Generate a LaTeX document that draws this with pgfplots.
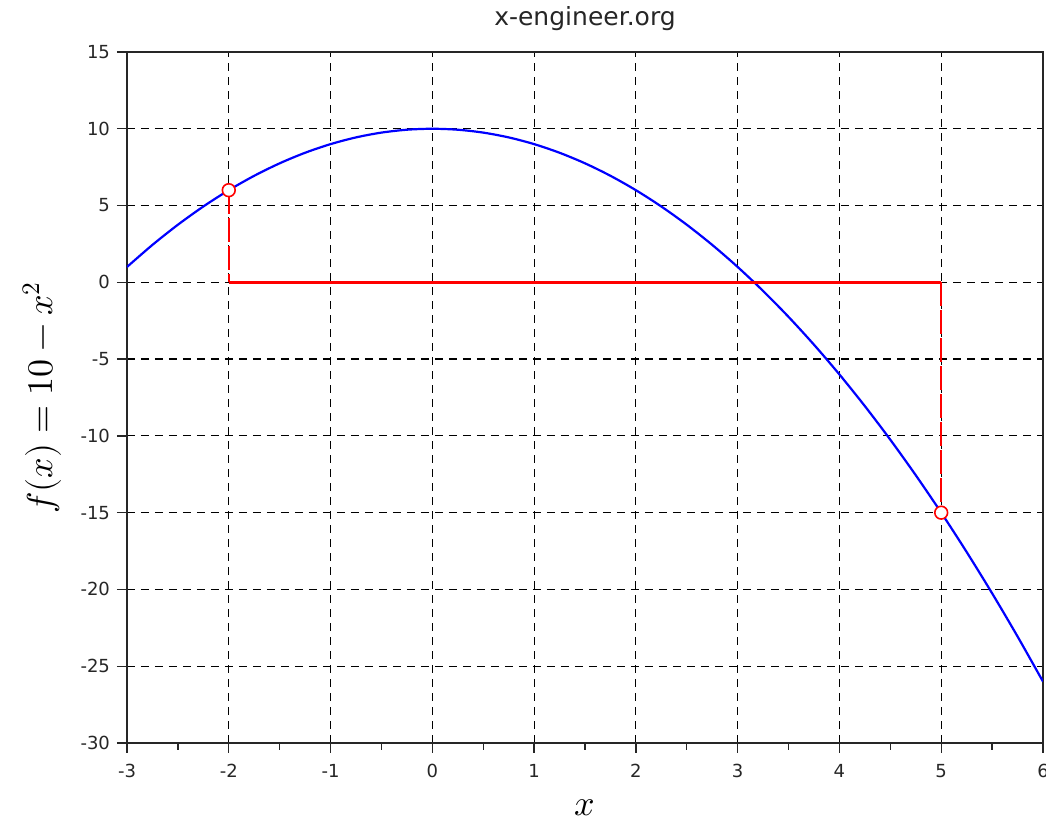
\documentclass[border=0pt]{standalone}
\usepackage{pgfplots}
\pgfplotsset{compat=1.18}
\usepackage{fontspec}
\setmainfont{DejaVu Sans}
\usepackage{unicode-math}
\setmathfont{Latin Modern Math}
\begin{document}
\begin{tikzpicture}
\useasboundingbox (-63.5pt,-40pt) rectangle (459.5pt,371.5pt);
\begin{axis}[
  scale only axis,
  width=458pt, height=345.5pt,
  xmin=-3, xmax=6, ymin=-30, ymax=15,
  xtick={-3,...,6}, ytick={-30,-25,...,15},
  minor xtick={-2.5,-1.5,...,5.5},
  xtick pos=left, ytick pos=left,
  tick align=outside,
  major tick length=5pt, minor tick length=3.5pt,
  every tick/.style={black!85, line width=0.7pt},
  axis line style={black!85, line width=0.7pt},
  grid=major,
  major grid style={black, line width=0.6pt, dash pattern=on 4pt off 3pt},
  /pgf/number format/assume math mode=true,
  tick label style={font=\fontsize{9}{10}\selectfont, text=black!85},
  xticklabel style={yshift=-2pt},
  title={x-engineer.org},
  title style={font=\fontsize{12.5}{14}\selectfont, text=black!85, at={(axis description cs:0.5,1)}, anchor=center, yshift=10.5pt},
  xlabel={$x$},
  ylabel={$f(x) = 10 - x^2$},
  xlabel style={font=\fontsize{18}{20}\selectfont, at={(axis description cs:0.5,0)}, anchor=center, yshift=-32.5pt},
  ylabel style={font=\fontsize{18}{20}\selectfont, at={(axis description cs:0,0.5)}, anchor=center, yshift=42.5pt},
  clip=true,
]
\addplot[blue, line width=1.1pt, smooth] coordinates {
(-3,1) (-2.75,2.4375) (-2.5,3.75) (-2.25,4.9375) (-2,6) (-1.75,6.9375)
(-1.5,7.75) (-1.25,8.4375) (-1,9) (-0.75,9.4375) (-0.5,9.75) (-0.25,9.9375)
(0,10) (0.25,9.9375) (0.5,9.75) (0.75,9.4375) (1,9) (1.25,8.4375)
(1.5,7.75) (1.75,6.9375) (2,6) (2.25,4.9375) (2.5,3.75) (2.75,2.4375)
(3,1) (3.25,-0.5625) (3.5,-2.25) (3.75,-4.0625) (4,-6) (4.25,-8.0625)
(4.5,-10.25) (4.75,-12.5625) (5,-15) (5.25,-17.5625) (5.5,-20.25)
(5.75,-23.0625) (6,-26)
};
\addplot[red, line width=0.8pt, dash pattern=on 12pt off 2pt] coordinates {(-2,6) (-2,0)};
\addplot[red, line width=0.8pt, dash pattern=on 12pt off 2pt] coordinates {(5,0) (5,-15)};
\addplot[red, line width=1.8pt] coordinates {(-2,0) (5,0)};
\addplot[red, only marks, mark=*, mark size=3.2pt, mark options={fill=white, draw=red, line width=0.8pt}] coordinates {(-2,6) (5,-15)};
\end{axis}
\end{tikzpicture}
\end{document}
